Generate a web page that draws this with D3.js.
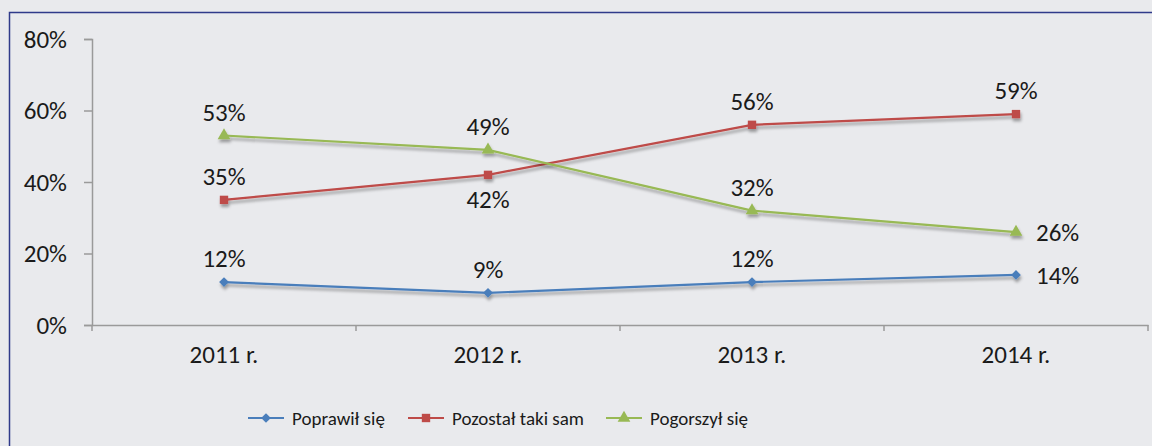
<!DOCTYPE html>
<html>
<head>
<meta charset="utf-8">
<script src="https://cdn.jsdelivr.net/npm/d3@7"></script>
<style>
  html, body { margin: 0; padding: 0; background: #e9eaed; }
  svg { display: block; font-family: Carlito, Calibri, Lato, "Open Sans", sans-serif; }
</style>
</head>
<body>
<svg width="1152" height="446"></svg>
<script>
var years = ["2011 r.", "2012 r.", "2013 r.", "2014 r."];
var poprawil = [12, 9, 12, 14];
var pozostal = [35, 42, 56, 59];
var pogorszyl = [53, 49, 32, 26];
var yTicks = [0, 20, 40, 60, 80];

// label placement per point: "up", "down", "right"
var series = [
  {name: "Poprawił się", values: poprawil, color: "#4a7ebb", marker: "diamond", pos: ["up", "up", "up", "right"]},
  {name: "Pozostał taki sam", values: pozostal, color: "#be4b48", marker: "square", pos: ["up", "down", "up", "up"]},
  {name: "Pogorszył się", values: pogorszyl, color: "#98b954", marker: "triangle", pos: ["up", "up", "up", "right"]}
];

var svg = d3.select("svg");
var plotLeft = 92, plotRight = 1148, plotTop = 39, plotBottom = 325;
var fs = 25;

// frame
svg.append("path")
    .attr("d", "M9.5,446 V12.5 H1152")
    .attr("fill", "none")
    .attr("stroke", "#2f3a8a")
    .attr("stroke-width", 1.5);

var defs = svg.append("defs");
var f = defs.append("filter").attr("id", "shadow").attr("x", "-10%").attr("y", "-50%").attr("width", "120%").attr("height", "200%");
f.append("feDropShadow").attr("dx", 1).attr("dy", 3).attr("stdDeviation", 1.6).attr("flood-color", "#000").attr("flood-opacity", 0.35);

var x = d3.scaleBand().domain(years).range([plotLeft, plotRight]);
var y = d3.scaleLinear().domain([0, 80]).range([plotBottom, plotTop]);

// y axis
var yAxis = svg.append("g")
    .attr("transform", "translate(" + plotLeft + ",0)")
    .call(d3.axisLeft(y).tickValues(yTicks).tickSize(8).tickPadding(17).tickFormat(d => d + "%"))
    .attr("font-family", null).attr("font-size", fs);
yAxis.selectAll("text").attr("fill", "#1a1a1a");

// x axis
var xAxis = svg.append("g")
    .attr("transform", "translate(0," + plotBottom + ")")
    .call(d3.axisBottom(x).tickSize(0).tickPadding(20))
    .attr("font-family", null).attr("font-size", fs);
xAxis.selectAll("text").attr("fill", "#1a1a1a");
xAxis.selectAll(".bound")
    .data(years.concat(["end"]))
    .join("line")
    .attr("x1", (d, i) => plotLeft + i * x.bandwidth())
    .attr("x2", (d, i) => plotLeft + i * x.bandwidth())
    .attr("y1", 0).attr("y2", 6);
svg.selectAll(".domain, .tick line, g line").attr("stroke", "#9a9a9a").attr("stroke-width", 1.5);

function cx(i) { return x(years[i]) + x.bandwidth() / 2; }

var line = d3.line().x((d, i) => cx(i)).y(d => y(d));

var symbols = {
  diamond: d3.symbol().type(d3.symbolDiamond2).size(60),
  square: d3.symbol().type(d3.symbolSquare).size(70),
  triangle: d3.symbol().type(d3.symbolTriangle).size(70)
};

series.forEach(function(s) {
  var g = svg.append("g").attr("filter", "url(#shadow)");
  g.append("path")
      .attr("d", line(s.values))
      .attr("fill", "none")
      .attr("stroke", s.color)
      .attr("stroke-width", 2.2);
  g.selectAll(".m")
      .data(s.values)
      .join("path")
      .attr("transform", (d, i) => "translate(" + cx(i) + "," + y(d) + ")")
      .attr("d", symbols[s.marker]())
      .attr("fill", s.color);
});

series.forEach(function(s) {
  svg.selectAll(null)
      .data(s.values)
      .join("text")
      .attr("x", (d, i) => s.pos[i] === "right" ? cx(i) + 20 : cx(i))
      .attr("y", (d, i) => s.pos[i] === "up" ? y(d) - 15 : s.pos[i] === "down" ? y(d) + 33 : y(d) + 9)
      .attr("text-anchor", (d, i) => s.pos[i] === "right" ? "start" : "middle")
      .attr("font-size", fs)
      .attr("fill", "#1a1a1a")
      .text(d => d + "%");
});

// legend
var legendX = [248, 408, 606];
var legend = svg.selectAll(".legend")
    .data(series)
    .join("g")
    .attr("transform", (d, i) => "translate(" + legendX[i] + ",418)");
legend.append("line")
    .attr("x1", 0).attr("x2", 36)
    .attr("stroke", d => d.color)
    .attr("stroke-width", 2.2);
legend.append("path")
    .attr("transform", "translate(18,0)")
    .attr("d", d => symbols[d.marker]())
    .attr("fill", d => d.color);
legend.append("text")
    .attr("x", 44).attr("y", 7)
    .attr("font-size", 19)
    .attr("fill", "#1a1a1a")
    .text(d => d.name);
</script>
</body>
</html>
